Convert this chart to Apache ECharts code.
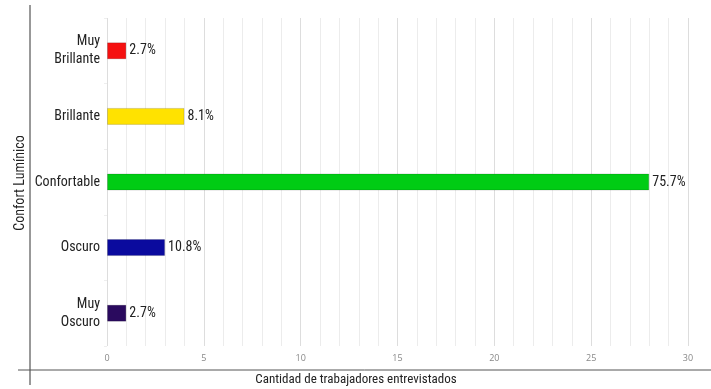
<!DOCTYPE html>
<html><head><meta charset="utf-8">
<script src="https://cdn.jsdelivr.net/npm/echarts@6/dist/echarts.min.js"></script>
<style>html,body{margin:0;padding:0;background:#fff}#c{width:711px;height:389px}</style>
</head><body><div id="c"></div>
<script>
const categories = ['Muy\nOscuro', 'Oscuro', 'Confortable', 'Brillante', 'Muy\nBrillante'];
const values = [1, 3, 28, 4, 1];
const pctLabels = ['2.7%', '10.8%', '75.7%', '8.1%', '2.7%'];
const colors = ['#2a0a5e', '#0a0a9e', '#00cc14', '#ffe200', '#f51010'];
const xTicks = [0, 5, 10, 15, 20, 25, 30];
const FONT = '"Roboto Condensed", "Liberation Sans Narrow", sans-serif';

const chart = echarts.init(document.getElementById('c'));
chart.setOption({
  animation: false,
  grid: {left: 107, right: 23, top: 18, bottom: 43, containLabel: false},
  xAxis: {
    type: 'value', min: xTicks[0], max: xTicks[xTicks.length-1], interval: 5,
    axisLine: {show: false}, axisTick: {show: false},
    axisLabel: {color: '#888', fontSize: 9, fontFamily: '"Open Sans", sans-serif', margin: 8},
    splitLine: {show: true, lineStyle: {color: '#dddddd', width: 1}},
    minorTick: {show: false, splitNumber: 5},
    minorSplitLine: {show: true, lineStyle: {color: '#ececec', width: 1}}
  },
  yAxis: {
    type: 'category', data: categories,
    axisLine: {show: false},
    axisTick: {show: true, length: 3, lineStyle: {color: '#eeeeee'}},
    axisLabel: {color: '#222', fontSize: 14, fontFamily: FONT, margin: 7, lineHeight: 18, align: 'right'},
    splitLine: {show: false}
  },
  series: [{
    type: 'bar',
    barWidth: 17,
    data: values.map((v, i) => ({value: v, itemStyle: {color: colors[i], borderColor: 'rgba(0,0,0,0.15)', borderWidth: 1}})),
    label: {
      show: true, position: 'right', distance: 3,
      color: '#222', fontSize: 14, fontFamily: FONT,
      formatter: p => pctLabels[p.dataIndex]
    }
  }],
  graphic: [
    {type: 'line', shape: {x1: 30, y1: 5, x2: 30, y2: 385}, style: {stroke: '#333', lineWidth: 1}},
    {type: 'line', shape: {x1: 18, y1: 370, x2: 711, y2: 370}, style: {stroke: '#555', lineWidth: 1}},
    {type: 'text', x: 356, y: 380, style: {text: 'Cantidad de trabajadores entrevistados', font: '13px ' + FONT, fill: '#222', textAlign: 'center', textVerticalAlign: 'middle'}},
    {type: 'text', x: 20, y: 183, rotation: Math.PI/2, style: {text: 'Confort Lumínico', font: '14px ' + FONT, fill: '#222', textAlign: 'center', textVerticalAlign: 'middle'}}
  ]
});
</script></body></html>
